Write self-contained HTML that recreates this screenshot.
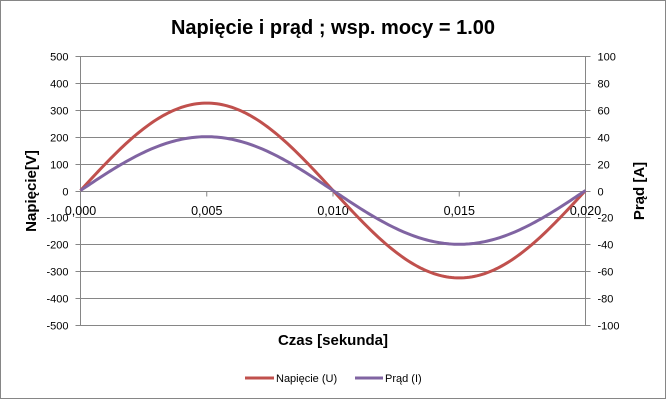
<!DOCTYPE html>
<html><head><meta charset="utf-8"><style>
html,body{margin:0;padding:0;background:#fff;}
svg{display:block;font-family:"Liberation Sans",sans-serif;}
</style></head><body>
<svg id="s" width="667" height="400" viewBox="0 0 667 400" xmlns="http://www.w3.org/2000/svg">
<rect x="0.5" y="0.5" width="665" height="398" fill="#fff" stroke="#868686"/>
<text x="333" y="34" text-anchor="middle" font-size="20" font-weight="bold" fill="#000">Napięcie i prąd ; wsp. mocy = 1.00</text>
<g stroke="#868686" stroke-width="1" id="grid"></g>
<g font-size="11" fill="#000" id="lbl"></g>
<text transform="translate(36,191) rotate(-90)" text-anchor="middle" font-size="15" font-weight="bold">Napięcie[V]</text>
<text transform="translate(644,191) rotate(-90)" text-anchor="middle" font-size="15" font-weight="bold">Prąd [A]</text>
<text x="333" y="345" text-anchor="middle" font-size="15" font-weight="bold">Czas [sekunda]</text>
<path id="pU" fill="none" stroke="#c0504d" stroke-width="3"/>
<path id="pI" fill="none" stroke="#8064a2" stroke-width="3"/>
<line x1="245" y1="378" x2="274" y2="378" stroke="#c0504d" stroke-width="3"/>
<text x="276" y="382" font-size="11">Napięcie (U)</text>
<line x1="355" y1="378" x2="383" y2="378" stroke="#8064a2" stroke-width="3"/>
<text x="385" y="382" font-size="11">Prąd (I)</text>
</svg>
<script>
var NS="http://www.w3.org/2000/svg";
var L=80.5,R=585.5,T=56,B=325,Z=(T+B)/2,H=(B-T)/10;
var g=document.getElementById('grid'),lb=document.getElementById('lbl');
function el(p,t,a,txt){var e=document.createElementNS(NS,t);for(var k in a)e.setAttribute(k,a[k]);if(txt!==undefined)e.textContent=txt;p.appendChild(e);return e;}
for(var i=0;i<=10;i++){var y=Math.round(T+i*H)+0.5;
el(g,'line',{x1:L,y1:y,x2:R,y2:y});
el(g,'line',{x1:L-5,y1:y,x2:L,y2:y});
el(g,'line',{x1:R,y1:y,x2:R+5,y2:y});
el(lb,'text',{x:L-12,y:y+4,'text-anchor':'end'},String(500-i*100));
el(lb,'text',{x:R+12,y:y+4},String(100-i*20));}
el(g,'line',{x1:L,y1:T,x2:L,y2:B});
el(g,'line',{x1:R,y1:T,x2:R,y2:B});
var xl=['0,000','0,005','0,010','0,015','0,020'];
var Zr=Math.round(Z)+0.5;
for(var j=0;j<5;j++){var x=L+j*(R-L)/4;
el(g,'line',{x1:x,y1:Zr,x2:x,y2:Zr+5});
el(lb,'text',{x:x,y:215,'text-anchor':'middle','font-size':'12.5'},xl[j]);}
var du='',di='';
for(var k=0;k<=200;k++){var t=k/200,x=L+t*(R-L),s=Math.sin(2*Math.PI*t);
du+=(k?'L':'M')+x.toFixed(2)+' '+(Z-325*s*H/100).toFixed(2);
di+=(k?'L':'M')+x.toFixed(2)+' '+(Z-40*s*H/20).toFixed(2);}
document.getElementById('pU').setAttribute('d',du);
document.getElementById('pI').setAttribute('d',di);
</script>
</body></html>
